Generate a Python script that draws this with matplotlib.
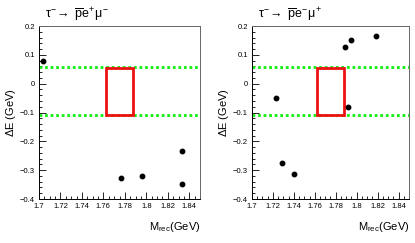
import matplotlib
matplotlib.use("Agg")
import matplotlib.pyplot as plt
from matplotlib.patches import Rectangle
from matplotlib.ticker import MultipleLocator

plt.rcParams['font.family'] = ['Liberation Sans', 'DejaVu Sans']
plt.rcParams['mathtext.fontset'] = 'custom'
plt.rcParams['mathtext.rm'] = 'Liberation Sans'
plt.rcParams['mathtext.it'] = 'Liberation Sans'

# candidate events (M_rec in GeV, dE in GeV)
left_m = [1.704, 1.776, 1.796, 1.833, 1.833]
left_de = [0.078, -0.328, -0.321, -0.235, -0.348]
right_m = [1.723, 1.729, 1.740, 1.789, 1.792, 1.795, 1.818]
right_de = [-0.049, -0.276, -0.313, 0.126, -0.082, 0.153, 0.164]

titles = [r'$\tau^{-}\!\rightarrow\ \overline{p}e^{+}\mu^{-}$',
          r'$\tau^{-}\!\rightarrow\ \overline{p}e^{-}\mu^{+}$']

# signal region
box_m = (1.762, 1.788)
box_de = (-0.108, 0.055)
band_de = [0.057, -0.109]

fig = plt.figure(figsize=(4.15, 2.43), dpi=100)
W, H = 415, 243
ax_l = fig.add_axes([39 / W, 1 - 199 / H, 161 / W, 173 / H])
ax_r = fig.add_axes([252 / W, 1 - 199 / H, 157 / W, 173 / H])

for ax, xs, ys, title in [(ax_l, left_m, left_de, titles[0]),
                          (ax_r, right_m, right_de, titles[1])]:
    ax.set_xlim(1.7, 1.85)
    ax.set_ylim(-0.4, 0.2)
    for yv in band_de:
        ax.axhline(yv, color='#11ee11', lw=2.0, ls=(0, (1, 1.0)), zorder=2)
    ax.add_patch(Rectangle((box_m[0], box_de[0]), box_m[1] - box_m[0],
                           box_de[1] - box_de[0], fill=False,
                           edgecolor='#ee1111', lw=2.0, zorder=3))
    ax.plot(xs, ys, 'o', color='black', ms=3.2, zorder=4)

    ax.xaxis.set_major_locator(MultipleLocator(0.02))
    ax.xaxis.set_minor_locator(MultipleLocator(0.005))
    ax.yaxis.set_major_locator(MultipleLocator(0.1))
    ax.yaxis.set_minor_locator(MultipleLocator(0.02))
    ax.set_xticks([1.7, 1.72, 1.74, 1.76, 1.78, 1.8, 1.82, 1.84])
    ax.set_xticklabels(['1.7', '1.72', '1.74', '1.76', '1.78', '1.8', '1.82', '1.84'])
    ax.set_yticks([-0.4, -0.3, -0.2, -0.1, 0, 0.1, 0.2])
    ax.set_yticklabels(['\u22120.4', '\u22120.3', '\u22120.2', '\u22120.1', '0', '0.1', '0.2'])
    ax.tick_params(which='major', direction='in', length=5, width=0.6,
                   labelsize=5.5, pad=3)
    ax.tick_params(which='minor', direction='in', length=2.5, width=0.6)
    for s in ax.spines.values():
        s.set_linewidth(0.7)
    ax.spines['top'].set_color('#666666')
    ax.spines['right'].set_color('#666666')

    ax.set_ylabel(r'$\Delta$E (GeV)', fontsize=8, labelpad=1.5)
    ax.set_xlabel(r'M$_{\mathrm{rec}}$(GeV)', fontsize=8, loc='right', labelpad=7)
    ax.text(0.04, 1.015, title, transform=ax.transAxes, fontsize=9,
            ha='left', va='bottom')

fig.savefig('out.png', dpi=100)
